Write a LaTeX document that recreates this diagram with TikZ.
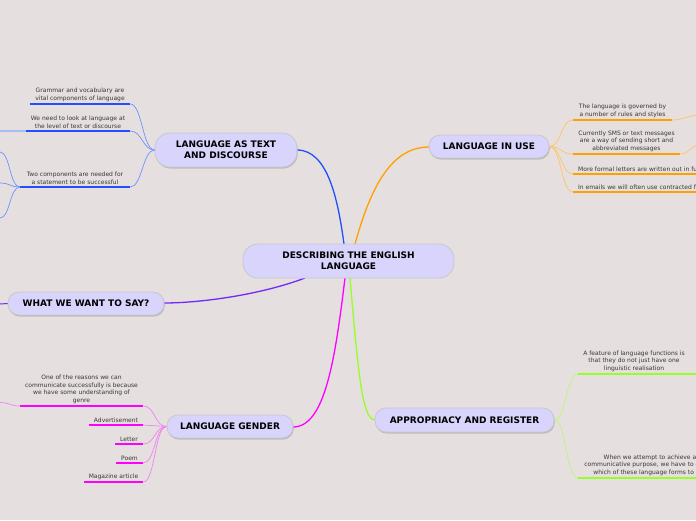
\documentclass[tikz,border=0pt]{standalone}
\usepackage{fontspec}
\setmainfont{DejaVu Sans}
\usetikzlibrary{shadows,calc}
\definecolor{bg}{RGB}{229,224,223}
\definecolor{nodefill}{RGB}{216,212,252}
\definecolor{nodeborder}{RGB}{200,198,206}
\definecolor{cblue}{RGB}{31,79,255}
\definecolor{lblue}{RGB}{110,145,255}
\definecolor{pblue}{RGB}{166,188,245}
\definecolor{corange}{RGB}{255,160,0}
\definecolor{lorange}{RGB}{255,195,100}
\definecolor{cpurple}{RGB}{115,40,255}
\definecolor{cmag}{RGB}{255,0,255}
\definecolor{lmag}{RGB}{240,130,240}
\definecolor{cgreen}{RGB}{150,255,40}
\definecolor{lgreen}{RGB}{190,245,120}
\definecolor{leaftext}{RGB}{55,55,55}
\tikzset{
  topic/.style={draw=nodeborder, line width=0.8pt, fill=nodefill, rounded corners=11pt,
    font=\fontsize{9}{11}\selectfont\bfseries, align=center, inner sep=0pt,
    drop shadow={shadow xshift=0.8pt, shadow yshift=-1.6pt, fill=black!40}},
  centraltopic/.style={draw=nodeborder, line width=0.8pt, fill=nodefill, rounded corners=15pt,
    font=\fontsize{9}{11}\selectfont\bfseries, align=center, inner sep=0pt},
  leaf/.style={font=\fontsize{6}{7.6}\selectfont, text=leaftext, align=center,
    inner xsep=0pt, inner ysep=2.2pt, anchor=south},
  leftleaf/.style={font=\fontsize{6}{7.6}\selectfont, text=leaftext, align=left,
    inner xsep=5pt, inner ysep=2.2pt, anchor=south west},
  mainline/.style={line width=1.3pt},
  uline/.style={line width=2pt},
  subline/.style={line width=0.7pt},
}
\begin{document}
\begin{tikzpicture}[x=1pt,y=-1pt]
\useasboundingbox (0,0) rectangle (696,520);
\clip (0,0) rectangle (696,520);
\fill[bg] (0,0) rectangle (696,520);

% main connectors (drawn first, under nodes)
\coordinate (cb) at (344,244);
\coordinate (co) at (355,244);
\coordinate (cp) at (305,278);
\coordinate (cm) at (345,278);
\coordinate (cg) at (350,278);

\draw[mainline, cblue] (cb) .. controls (338,200) and (328,150) .. (297,150);
\draw[mainline, corange] (co) .. controls (370,190) and (390,147) .. (429,147);
\draw[mainline, cpurple] (cp) .. controls (260,295) and (200,303) .. (164,303);
\draw[mainline, cmag] (cm) .. controls (335,360) and (325,427) .. (293,427);
\draw[mainline, cgreen] (cg) .. controls (358,370) and (362,420) .. (375,420);

% topic nodes
\node[centraltopic, minimum width=211pt, minimum height=34pt] (central) at (348.5,261)
  {DESCRIBING THE ENGLISH\\LANGUAGE};
\node[topic, rounded corners=15pt, minimum width=142pt, minimum height=34pt] (latd) at (226,150)
  {LANGUAGE AS TEXT\\AND DISCOURSE};
\node[topic, minimum width=120pt, minimum height=23pt] (liu) at (489,146.5) {LANGUAGE IN USE};
\node[topic, minimum width=156pt, minimum height=23pt] (www) at (86,303.5) {WHAT WE WANT TO SAY?};
\node[topic, minimum width=126pt, minimum height=23pt] (lg) at (230,426.5) {LANGUAGE GENDER};
\node[topic, minimum width=179pt, minimum height=24pt] (aar) at (464.5,420) {APPROPRIACY AND REGISTER};

% ---------- LANGUAGE AS TEXT AND DISCOURSE ----------
\node[leaf, minimum width=100pt] (g1) at (80,104) {Grammar and vocabulary are\\vital components of language};
\node[leaf, minimum width=104pt] (g2) at (78,131) {We need to look at language at\\the level of text or discourse};
\node[leaf, minimum width=110pt] (g3) at (75,187) {Two components are needed for\\a statement to be successful};
\foreach \n in {g1,g2,g3}{
  \draw[uline, cblue] (\n.south west) -- (\n.south east);
  \draw[subline, lblue] (latd.west) .. controls +(-12,0) and +(12,0) .. (\n.south east);
}
\coordinate (g2x) at (0,131);
\draw[uline, pblue] (g2.south west) -- (g2x);
\coordinate (g3a) at (0,152);
\coordinate (g3b) at (0,183);
\coordinate (g3c) at (0,218);
\foreach \c in {g3a,g3b,g3c}{
  \draw[subline, lblue] (g3.south west) .. controls +(-10,0) and +(10,0) .. (\c);
}

% ---------- LANGUAGE IN USE ----------
\node[leaf, minimum width=99pt] (u1) at (622.5,120) {The language is governed by\\a number of rules and styles};
\node[leaf, minimum width=107pt] (u2) at (626.5,154) {Currently SMS or text messages\\are a way of sending short and\\abbreviated messages};
\node[leftleaf] (u3) at (573,174) {More formal letters are written out in full};
\node[leftleaf] (u4) at (573,192) {In emails we will often use contracted forms};
\foreach \n in {u1,u2,u3,u4}{
  \draw[uline, corange] (\n.south west) -- (\n.south east);
  \draw[subline, lorange] (liu.east) .. controls +(12,0) and +(-12,0) .. (\n.south west);
}
\coordinate (u1x) at (700,115);
\coordinate (u2x) at (700,145);
\draw[subline, lorange] (u1.south east) .. controls +(12,0) and +(-12,0) .. (u1x);
\draw[subline, lorange] (u2.south east) .. controls +(10,0) and +(-10,0) .. (u2x);

% ---------- WHAT WE WANT TO SAY? ----------
\coordinate (wx) at (0,304);
\draw[subline, cpurple, line width=1pt] (www.west) -- (wx);

% ---------- LANGUAGE GENDER ----------
\node[leaf, minimum width=123pt] (r1) at (81.5,406) {One of the reasons we can\\communicate successfully is because\\we have some understanding of\\genre};
\node[leaf, minimum width=54pt] (r2) at (116,425) {Advertisement};
\node[leaf, minimum width=28pt] (r3) at (129,444) {Letter};
\node[leaf, minimum width=27pt] (r4) at (129.5,463) {Poem};
\node[leaf, minimum width=59pt] (r5) at (113.5,482) {Magazine article};
\foreach \n in {r1,r2,r3,r4,r5}{
  \draw[uline, cmag] (\n.south west) -- (\n.south east);
  \draw[subline, lmag] (lg.west) .. controls +(-12,0) and +(12,0) .. (\n.south east);
}
\coordinate (r1x) at (0,402.5);
\draw[subline, lmag] (r1.south west) .. controls +(-10,0) and +(10,0) .. (r1x);

% ---------- APPROPRIACY AND REGISTER ----------
\node[leaf, minimum width=112pt] (a1) at (634,374) {A feature of language functions is\\that they do not just have one\\linguistic realisation};
\node[leaf, minimum width=144pt] (a2) at (650,478) {When we attempt to achieve a\\communicative purpose, we have to decide\\which of these language forms to use};
\draw[uline, cgreen] (a1.south west) -- ++(125,0);
\draw[uline, cgreen] (a2.south west) -- (a2.south east);
\foreach \n in {a1,a2}{
  \draw[subline, lgreen] (aar.east) .. controls +(12,0) and +(-12,0) .. (\n.south west);
}
\end{tikzpicture}
\end{document}
